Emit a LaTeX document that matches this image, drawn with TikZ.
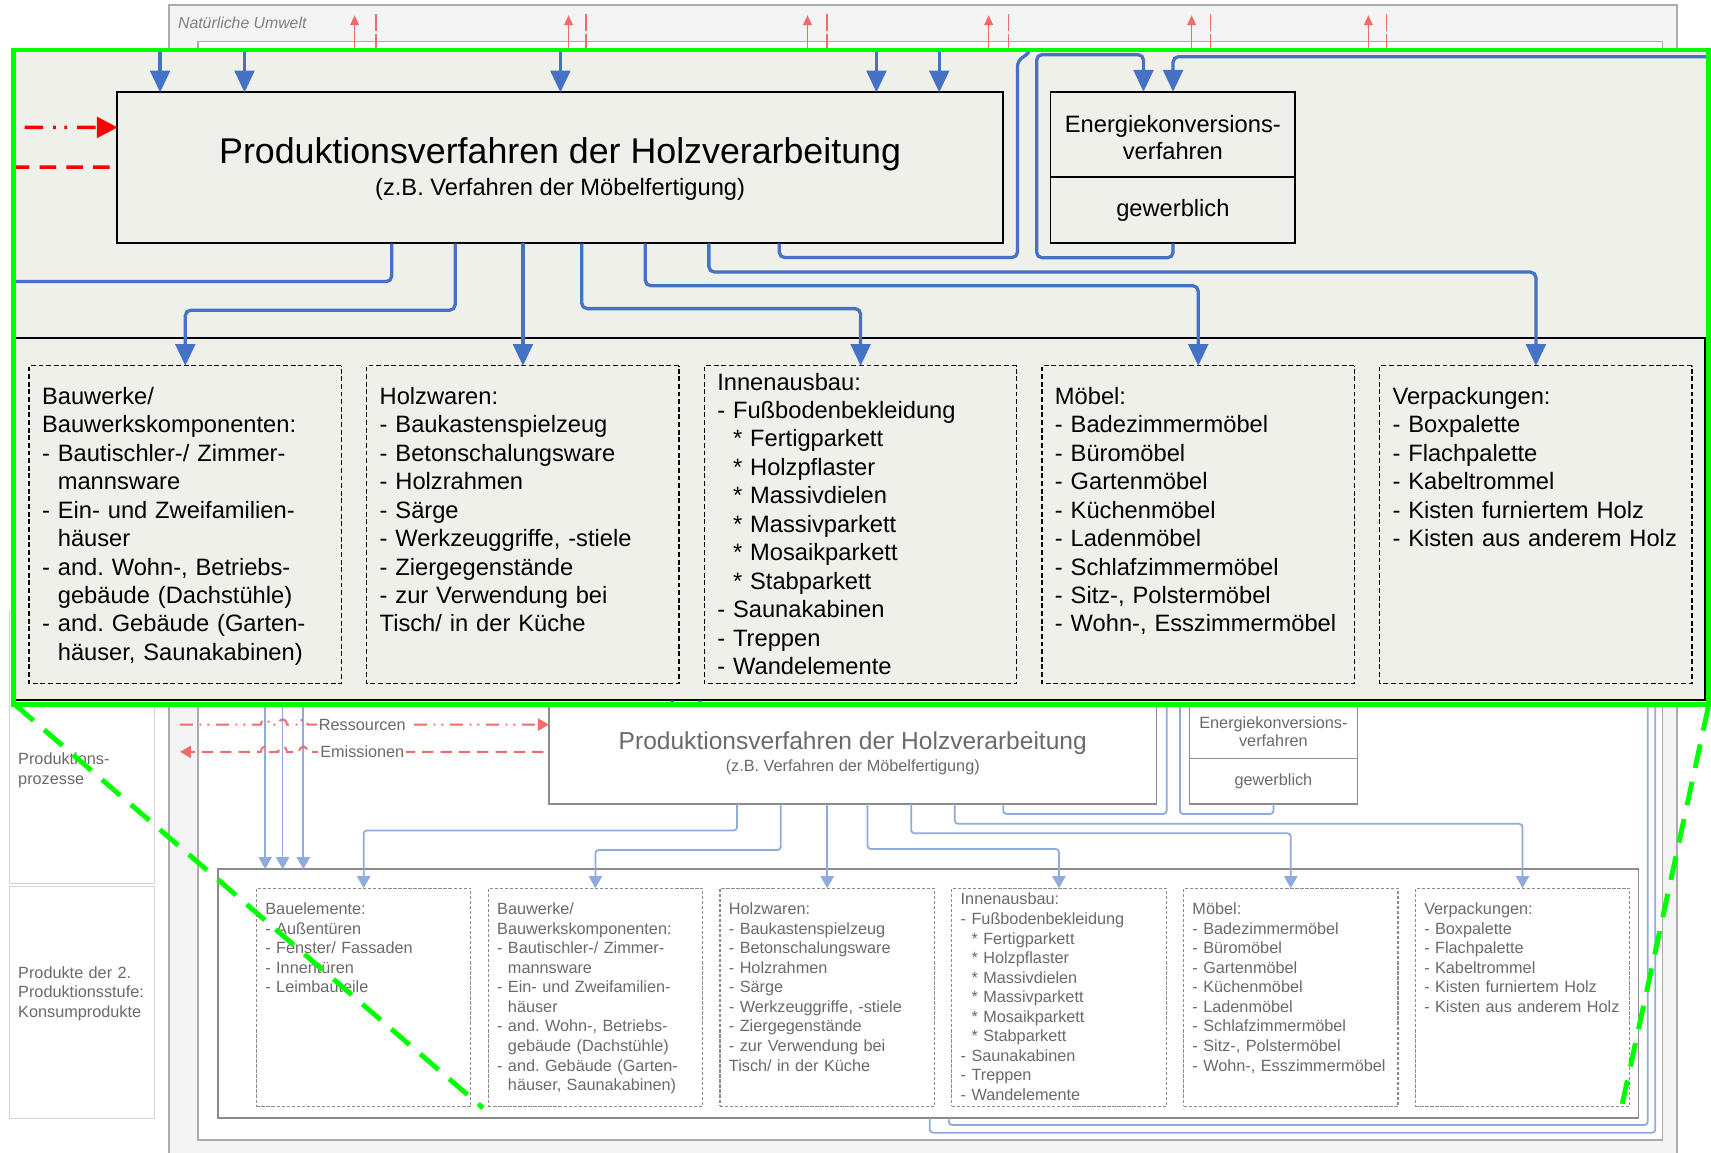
\documentclass[tikz,border=0pt]{standalone}
\usepackage{fontspec}
\setmainfont{Liberation Sans}
\usetikzlibrary{arrows.meta}
\frenchspacing

\definecolor{insetfill}{HTML}{F0F0EB}
\definecolor{zoomgreen}{HTML}{00FF00}
\definecolor{flowblue}{HTML}{4472C4}
\definecolor{paleblue}{HTML}{8FAADC}
\definecolor{palered}{HTML}{F26B6B}
\definecolor{paletext}{HTML}{6A6A6A}
\definecolor{paleframe}{HTML}{8C8C8C}
\definecolor{envfill}{HTML}{F4F4F4}
\definecolor{envframe}{HTML}{ABABAB}
\definecolor{cellframe}{HTML}{D4D4D4}

\newcommand\bodyfont{\fontsize{14.9pt}{17.9pt}\selectfont}
\newcommand\headfont{\fontsize{22.5pt}{26pt}\selectfont}
\newcommand\pfxsp{\hphantom{- }}
\newif\ifoverview

\tikzset{
  itemtext/.style={anchor=base west, text width=186pt, align=left},
  faded/.style={
    boxline/.style={draw=paleframe, line width=1.4pt, inner sep=0pt, outer sep=0pt},
    itembox/.style={draw=paleframe, line width=1pt, dash pattern=on 3pt off 1.6pt, inner sep=0pt, outer sep=0pt},
    flow/.style={draw=paleblue, line width=1.6pt, rounded corners=3pt},
    flowtip/.style={flow, -{Triangle[length=11pt,width=12pt]}},
    resline/.style={draw=palered, line width=1.8pt, dash pattern=on 11.7pt off 6.2pt on 1.7pt off 5.5pt on 1.7pt off 6.2pt, -{Triangle[length=10pt,width=11pt]}},
    emline/.style={draw=palered, line width=1.8pt, dash pattern=on 10.3pt off 6.5pt, -{Triangle[length=10pt,width=11pt]}},
    txt/.style={text=paletext, font=\bodyfont, inner sep=0pt},
    labelbg/.style={fill=white, inner sep=2pt},
  },
  sharp/.style={
    boxline/.style={draw=black, line width=1.8pt, inner sep=0pt, outer sep=0pt},
    itembox/.style={draw=black, line width=1.3pt, dash pattern=on 4.5pt off 2.5pt, inner sep=0pt, outer sep=0pt},
    flow/.style={draw=flowblue, line width=3pt, rounded corners=5pt},
    flowtip/.style={flow, -{Triangle[length=20pt,width=18pt]}},
    resline/.style={draw=red, line width=3.3pt, dash pattern=on 17pt off 9pt on 2.5pt off 8pt on 2.5pt off 9pt, -{Triangle[length=19pt,width=19pt]}},
    emline/.style={draw=red, line width=3.3pt, dash pattern=on 15pt off 9.5pt},
    txt/.style={text=black, font=\bodyfont, inner sep=0pt},
    labelbg/.style={fill=insetfill, inner sep=2pt},
  },
  leftlabel/.style={text=paletext, font=\fontsize{14.9pt}{17.6pt}\selectfont, anchor=base west, text width=125pt, align=left, inner sep=0pt},
}

% The process level with its products; drawn once small and once enlarged
\newcommand\drawdiagram{%
  % production process and energy conversion
  \node[boxline, anchor=north west, minimum width=557pt, minimum height=95pt] (main) at (503,642) {};
  \node[txt, font=\headfont, anchor=base] (maintitle) at (781.5,686.7) {Produktionsverfahren der Holzverarbeitung};
  \node[txt, anchor=base] (mainsub) at (781.5,706.6) {(z.B. Verfahren der Möbelfertigung)};
  \node[boxline, anchor=north west, minimum width=154pt, minimum height=95.4pt] (energy) at (1090,641.6) {};
  \draw[boxline] (1090,695) -- (1244,695);
  \node[txt, anchor=base] (entop) at (1167,667.4) {Energiekonversions-};
  \node[txt, anchor=base] (enmid) at (1167,684.5) {verfahren};
  \node[txt, anchor=base] (enlow) at (1167,720.2) {gewerblich};
  % consumer products
  \node[boxline, anchor=north west, minimum width=1301.5pt, minimum height=228pt] (prod) at (200,796.5) {};
  \foreach \nm/\xx in {bauel/235, bauwerk/447.4, holzw/659.8, innen/872.2, moebel/1084.6, verpack/1297}
    \node[itembox, anchor=north west, minimum width=196.5pt, minimum height=200pt] (\nm) at (\xx,814) {};
  \ifoverview
  \node[txt, itemtext] (bauel-t) at (243,838.3)
    {Bauelemente:\\- Außentüren\\- Fenster/ Fassaden\\- Innentüren\\- Leimbauteile};
  \fi
  \node[txt, itemtext] (bauwerk-t) at (455.4,838.3)
    {Bauwerke/\\Bauwerkskomponenten:\\- Bautischler-/ Zimmer-\\\pfxsp mannsware\\- Ein- und Zweifamilien-\\\pfxsp häuser\\- and. Wohn-, Betriebs-\\\pfxsp gebäude (Dachstühle)\\- and. Gebäude (Garten-\\\pfxsp häuser, Saunakabinen)};
  \node[txt, itemtext] (holzw-t) at (667.8,838.3)
    {Holzwaren:\\- Baukastenspielzeug\\- Betonschalungsware\\- Holzrahmen\\- Särge\\- Werkzeuggriffe, -stiele\\- Ziergegenstände\\- zur Verwendung bei\\Tisch/ in der Küche};
  \node[txt, itemtext] (innen-t) at (880.2,829.3)
    {Innenausbau:\\- Fußbodenbekleidung\\\pfxsp* Fertigparkett\\\pfxsp* Holzpflaster\\\pfxsp* Massivdielen\\\pfxsp* Massivparkett\\\pfxsp* Mosaikparkett\\\pfxsp* Stabparkett\\- Saunakabinen\\- Treppen\\- Wandelemente};
  \node[txt, itemtext] (moebel-t) at (1092.6,838.3)
    {Möbel:\\- Badezimmermöbel\\- Büromöbel\\- Gartenmöbel\\- Küchenmöbel\\- Ladenmöbel\\- Schlafzimmermöbel\\- Sitz-, Polstermöbel\\- Wohn-, Esszimmermöbel};
  \node[txt, itemtext] (verpack-t) at (1305,838.3)
    {Verpackungen:\\- Boxpalette\\- Flachpalette\\- Kabeltrommel\\- Kisten furniertem Holz\\- Kisten aus anderem Holz};
  % material flows into the process
  \foreach \nm/\xx in {ina/529.8, inb/582.9, inc/781.6, ind/980.4, ine/1019.9} {
    \coordinate (\nm) at (\xx,590);
    \draw[flowtip] (\nm) -- (\nm |- main.north);
  }
  \foreach \nm/\xx in {la/243, lb/259, lc/278} {
    \coordinate (\nm) at (\xx,590);
    \draw[flowtip] (\nm) -- (\nm |- prod.north);
  }
  % flows from the process to the products
  \coordinate (oa) at (675.5,737);
  \coordinate (ob) at (715.4,737);
  \coordinate (od) at (795,737);
  \coordinate (oe) at (835,737);
  \coordinate (of) at (875,737);
  \coordinate (og) at (919.3,737);
  \draw[flowtip] (oa) -- ++(0,24) -| (bauel.north);
  \draw[flowtip] (ob) -- ++(0,42) -| (bauwerk.north);
  \draw[flowtip] (holzw.north |- main.south) -- (holzw.north);
  \draw[flowtip] (od) -- ++(0,41) -| (innen.north);
  \draw[flowtip] (oe) -- ++(0,26.6) -| (moebel.north);
  \draw[flowtip] (of) -- ++(0,18) -| (verpack.north);
  \draw[flow] (og) -- ++(0,8.9) -| (1069.2,622.4) -- (1077.4,616.5) -- (1077.4,590);
  % energy loops
  \coordinate (ein1) at (1148.4,641.6);
  \draw[flowtip] (energy.south) -- ++(0,9) -| (1081.3,618.3) -| (ein1);
  \coordinate (pa) at (852,1024.5);
  \coordinate (pb) at (869.5,1024.5);
  \draw[flowtip] (pa) -- ++(0,13.5) -| (1517,619.6) -| (energy.north);
  \draw[flow] (pb) -- ++(0,6.5) -| (1510,590);
  % resources and emissions
  \coordinate (rs) at (165,664);
  \draw[resline] (rs) -- (239,664) .. controls (240,657.5) and (246,657.5) .. (247,664)
    -- (255,664) .. controls (256,657.5) and (262,657.5) .. (263,664)
    -- (274,664) .. controls (275,657.5) and (281,657.5) .. (282,664) -- (rs -| main.west);
  \coordinate (es) at (165,689);
  \coordinate (ee) at (498,689);
  \draw[emline] (ee) -- (282,689) .. controls (281,682.5) and (275,682.5) .. (274,689)
    -- (263,689) .. controls (262,682.5) and (256,682.5) .. (255,689)
    -- (247,689) .. controls (246,682.5) and (240,682.5) .. (239,689) -- (es);
  \ifoverview
  \node[txt, labelbg] (reslabel) at (332,664) {Ressourcen};
  \node[txt, labelbg] (emlabel) at (332,689) {Emissionen};
  \fi
}

\begin{document}
\begin{tikzpicture}[x=1pt, y=-1pt]
\useasboundingbox (0,0) rectangle (1568,1056);
% environment and technosphere frames
\draw[envframe, line width=1.5pt, fill=envfill] (155,4.6) rectangle (1537,1075);
\node[anchor=west, text=paletext!85, font=\fontsize{14.5pt}{17pt}\selectfont\itshape, inner sep=0pt] (envlabel) at (163,20.5) {Natürliche Umwelt};
\draw[envframe, line width=1.2pt, fill=white] (181.5,38) rectangle (1523.5,1044.7);
% emissions into the environment
\foreach \ax/\dx in {325/344.5, 521/537, 740/757.8, 906/924, 1092/1109.5, 1254/1270.6} {
  \draw[palered, line width=1.5pt, -{Triangle[length=9pt,width=8pt]}] (\ax,46) -- (\ax,14);
  \draw[palered, line width=1.2pt, dash pattern=on 15pt off 3pt] (\dx,46) -- (\dx,11);
}
% row headings
\draw[cellframe, line width=1pt, fill=white] (9,560) rectangle (142,810);
\draw[cellframe, line width=1pt, fill=white] (9,812) rectangle (142,1025);
\node[leftlabel] (cellproc) at (16.5,701) {Produktions-\\prozesse};
\node[leftlabel] (cellprod) at (16.5,896.8) {Produkte der 2.\\Produktionsstufe:\\Konsumprodukte};
% overview
\begin{scope}[faded]
  \overviewtrue
  \drawdiagram
\end{scope}
% enlarged detail
\begin{scope}
  \clip (12.2,45.8) rectangle (1565.5,646);
  \fill[insetfill] (12.2,45.8) rectangle (1565.5,646);
  \begin{scope}[shift={(-625.12,-850.59)}, scale=1.4567, transform shape, sharp]
    \overviewfalse
    \drawdiagram
  \end{scope}
\end{scope}
\draw[zoomgreen, line width=4.5pt] (12.2,45.8) rectangle (1565.5,646);
\draw[zoomgreen, line width=4.5pt, dash pattern=on 22pt off 13pt] (14,646) -- (442.6,1015.4);
\draw[zoomgreen, line width=4.5pt, dash pattern=on 22pt off 13pt] (1565.5,648) -- (1485.5,1017);
\end{tikzpicture}
\end{document}
